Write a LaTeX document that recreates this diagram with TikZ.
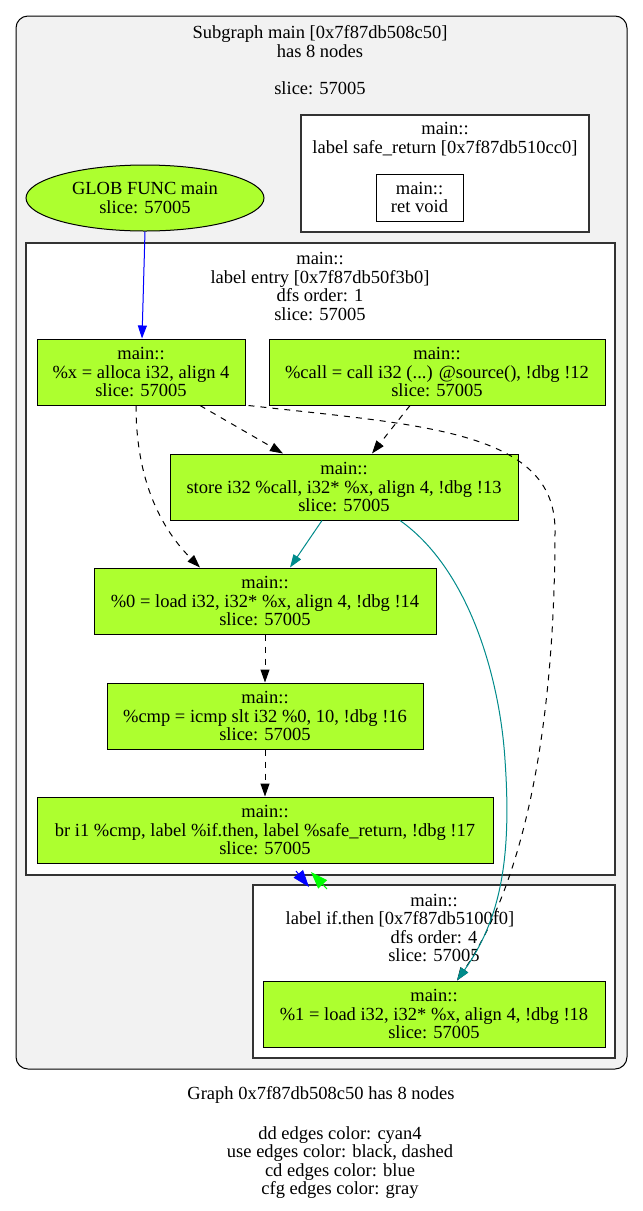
\documentclass[tikz,border=0pt]{standalone}
\usepackage{fontspec}
\setmainfont{Liberation Serif}
\usetikzlibrary{arrows.meta,positioning,calc,shapes.geometric}
\definecolor{gyfill}{HTML}{ADFF2F}
\definecolor{cyanfour}{HTML}{008B8B}
\definecolor{greyfill}{HTML}{F2F2F2}
\definecolor{brightgreen}{HTML}{00FF00}
\newcommand{\graphfont}{\fontsize{18.5pt}{18.6pt}\selectfont}
\tikzset{
  instr/.style={draw=black,fill=gyfill,line width=1pt,inner sep=0pt,align=center,
    minimum height=66pt,font=\graphfont},
  retbox/.style={draw=black,fill=white,line width=1pt,inner sep=0pt,align=center,
    minimum width=87pt,minimum height=47pt,font=\graphfont},
  globfunc/.style={draw=black,fill=gyfill,ellipse,line width=1pt,inner sep=0pt,align=center,
    minimum width=238pt,minimum height=66pt,font=\graphfont},
  outercluster/.style={draw=black,fill=greyfill,line width=1pt,rounded corners=12pt},
  cluster/.style={draw=black!80,fill=white,line width=1.2pt},
  clabel/.style={inner sep=0pt,align=center,font=\graphfont},
  tip/.style={-{Triangle[length=13pt,width=9pt]}},
  bigtip/.style={-{Triangle[length=17pt,width=12pt]}},
  useedge/.style={tip,draw=black,line width=1pt,dash pattern=on 6pt off 6pt},
  ddedge/.style={tip,draw=cyanfour,line width=1pt},
  cdedge/.style={tip,draw=blue,fill=blue,line width=1pt},
  cfgedge/.style={tip,draw=brightgreen,fill=brightgreen,line width=1pt}
}
\begin{document}
\begin{tikzpicture}[x=1pt,y=-1pt]
  \useasboundingbox (0,0) rectangle (643,1211);
  % clusters
  \draw[outercluster] (16,16) rectangle (627,1069);
  \node[clabel] (mainlbl) at (320,60.5) {Subgraph main [0x7f87db508c50]\\has 8 nodes\\[18.6pt]slice: 57005};
  \draw[cluster] (301,115) rectangle (589,232);
  \node[clabel] (safelbl) at (445,139) {main::\\label safe\_return [0x7f87db510cc0]};
  \draw[cluster] (26,243) rectangle (615,875);
  \node[clabel] (entrylbl) at (320,286.5) {main::\\label entry [0x7f87db50f3b0]\\dfs order: 1\\slice: 57005};
  \draw[cluster] (253,885) rectangle (615,1058);
  \node[clabel] (ifthenlbl) at (434,928) {main::\\\hspace*{-68pt}label if.then [0x7f87db5100f0]\\dfs order: 4\\slice: 57005};
  % nodes
  \node[globfunc] (glob) at (145,198) {GLOB FUNC main\\slice: 57005};
  \node[retbox] (retvoid) at (419.5,197.5) {main::\\ret void};
  \node[instr,minimum width=208pt] (xalloca) at (141,372) {main::\\\%x = alloca i32, align 4\\slice: 57005};
  \node[instr,minimum width=336pt] (callsrc) at (437,372) {main::\\\%call = call i32 (...) @source(), !dbg !12\\slice: 57005};
  \node[instr,minimum width=348pt] (storex) at (344,487) {main::\\store i32 \%call, i32* \%x, align 4, !dbg !13\\slice: 57005};
  \node[instr,minimum width=342pt] (loadz) at (265,601) {main::\\\%0 = load i32, i32* \%x, align 4, !dbg !14\\slice: 57005};
  \node[instr,minimum width=316pt] (cmpz) at (265,716) {main::\\\%cmp = icmp slt i32 \%0, 10, !dbg !16\\slice: 57005};
  \node[instr,minimum width=456pt] (brcmp) at (265,830) {main::\\br i1 \%cmp, label \%if.then, label \%safe\_return, !dbg !17\\slice: 57005};
  \node[instr,minimum width=342pt] (loadone) at (434,1014) {main::\\\%1 = load i32, i32* \%x, align 4, !dbg !18\\slice: 57005};
  % edges
  \draw[cdedge] (glob.south) -- ([xshift=1pt]xalloca.north);
  \draw[useedge] ([xshift=-5pt]xalloca.south) .. controls +(0,65) and +(-45,-45) .. ([xshift=-65pt]loadz.north);
  \draw[useedge] ([xshift=59pt]xalloca.south) -- ([xshift=-61pt]storex.north);
  \draw[useedge] ([xshift=-27pt]callsrc.south) -- ([xshift=28pt]storex.north);
  \draw[useedge] ([xshift=3pt]xalloca.south east) .. controls (420,425) and (555,430) .. (555,530)
    .. controls (555,700) and (532,870) .. ([xshift=23pt]loadone.north);
  \draw[ddedge] ([xshift=-22pt]storex.south) -- ([xshift=25pt]loadz.north);
  \draw[ddedge] ([xshift=56pt]storex.south) .. controls (470,570) and (500,680) .. (505,760)
    .. controls (512,860) and (500,920) .. ([xshift=23pt]loadone.north);
  \draw[useedge] (loadz.south) -- (cmpz.north);
  \draw[useedge] (cmpz.south) -- (brcmp.north);
  \coordinate (cdtail) at (296,871);
  \coordinate (cdhead) at (309,887);
  \draw[cdedge,bigtip] (cdtail) -- (cdhead);
  \coordinate (cfgtail) at (327,889);
  \coordinate (cfghead) at (311,872);
  \draw[cfgedge,bigtip] (cfgtail) -- (cfghead);
  % legend
  \node[clabel] (graphlbl) at (321,1095) {Graph 0x7f87db508c50 has 8 nodes};
  \node[clabel] (legend) at (340,1162.5) {dd edges color: cyan4\\use edges color: black, dashed\\cd edges color: blue\\cfg edges color: gray};
\end{tikzpicture}
\end{document}
